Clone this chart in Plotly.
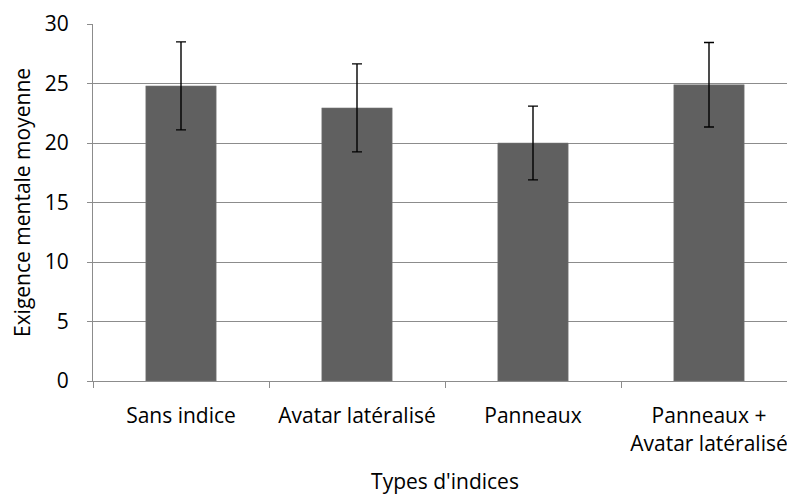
import plotly.graph_objects as go

categories = ["Sans indice", "Avatar latéralisé", "Panneaux", "Panneaux +<br>Avatar latéralisé"]
means = [24.8, 22.95, 20.0, 24.9]
errors = [3.7, 3.7, 3.1, 3.55]
y_ticks = [0, 5, 10, 15, 20, 25, 30]

FONT = "Open Sans, Lato, Noto Sans, sans-serif"

fig = go.Figure(go.Bar(
    x=categories, y=means,
    marker=dict(color="#606060", line=dict(color="#7a7a7a", width=0.5)),
    error_y=dict(type="data", array=errors, visible=True, color="black", thickness=1.4, width=5),
    width=0.4,
))

fig.update_layout(
    width=795, height=495,
    margin=dict(l=85, r=6, t=16, b=122),
    plot_bgcolor="white", paper_bgcolor="white",
    font=dict(family=FONT, size=21, color="black"),
    showlegend=False,
)
fig.update_yaxes(
    range=[0, 30], tickvals=y_ticks, automargin=False,
    showgrid=True, gridcolor="#8c8c8c", gridwidth=1,
    showline=True, linecolor="#8c8c8c", linewidth=1,
    ticks="outside", ticklen=5, tickcolor="#8c8c8c",
    ticklabelstandoff=14,
    tickfont=dict(size=21),
    title=dict(text="Exigence mentale moyenne", font=dict(size=21), standoff=8),
    zeroline=False,
)
fig.update_xaxes(
    automargin=False,
    showline=True, linecolor="#8c8c8c", linewidth=1,
    ticks="outside", ticklen=6, tickcolor="#8c8c8c", tickson="boundaries",
    ticklabelstandoff=16,
    tickfont=dict(size=21),
    title=dict(text="Types d'indices", font=dict(size=21), standoff=18),
)

fig.write_html("out.html")
